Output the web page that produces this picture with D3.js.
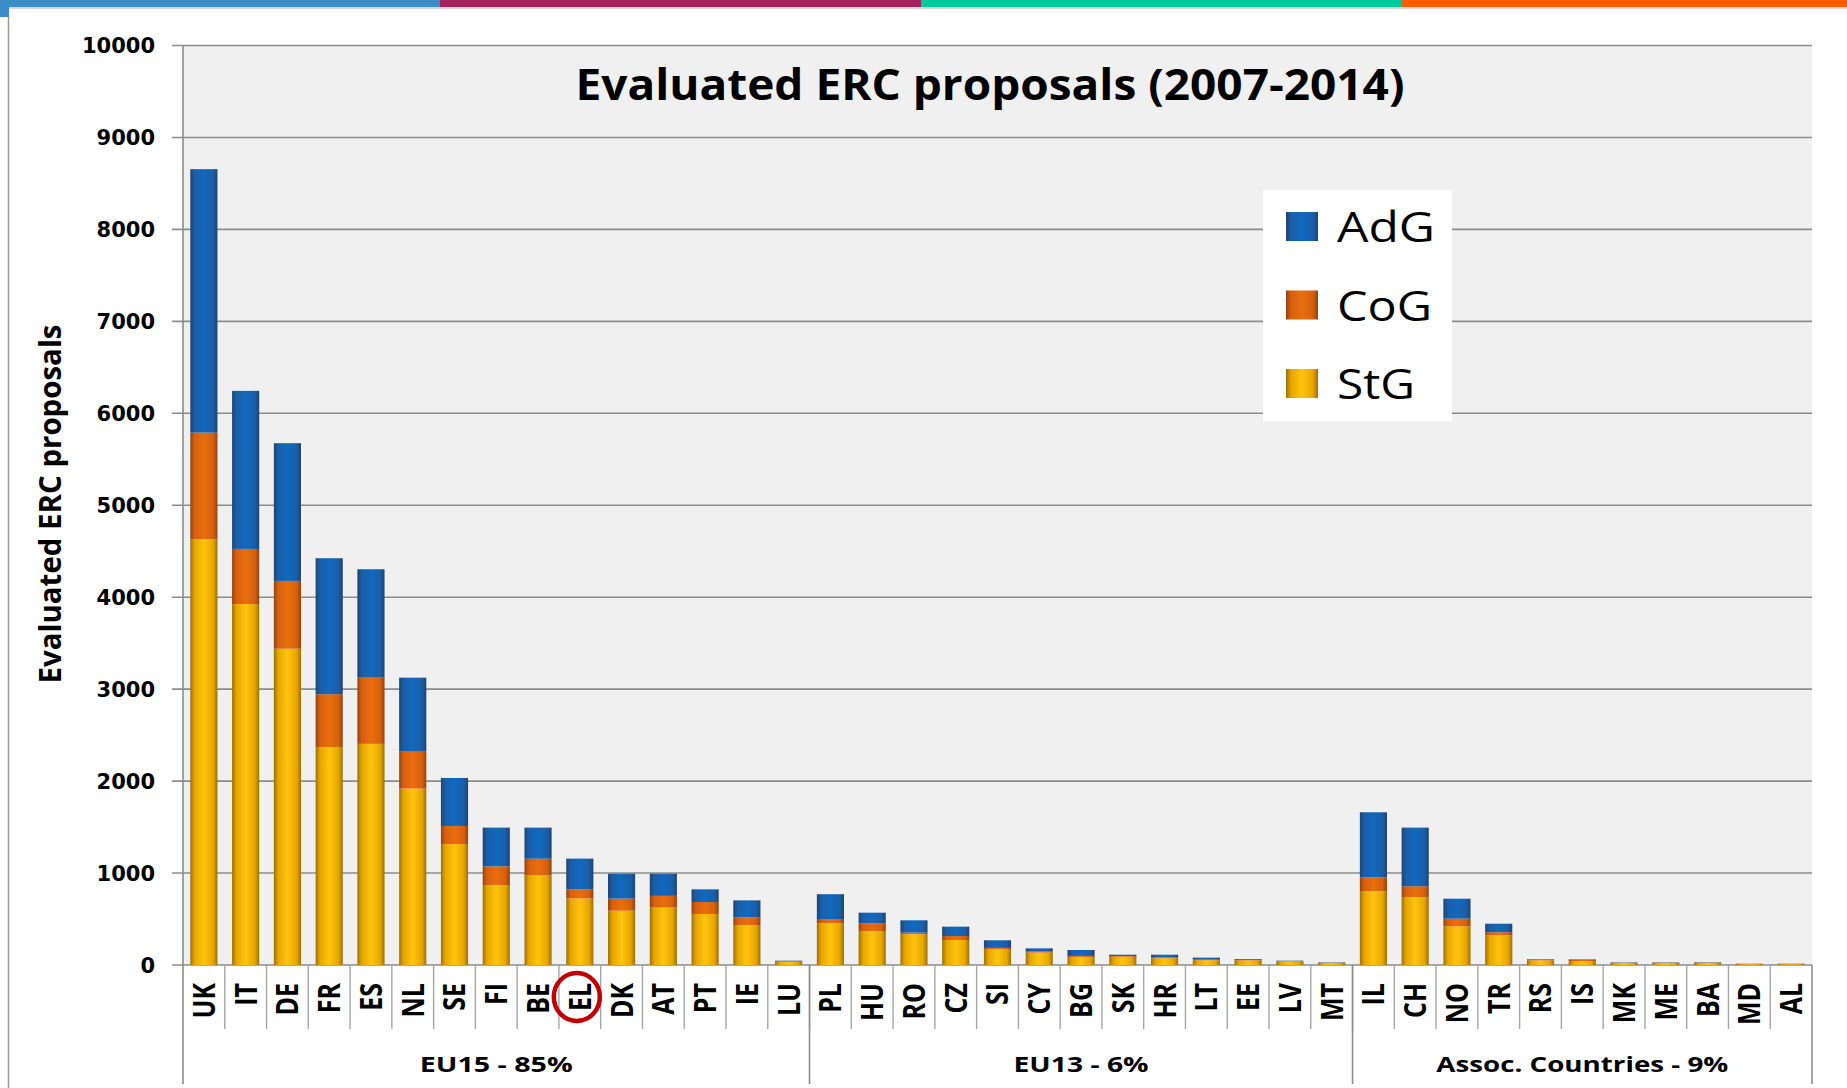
<!doctype html>
<html>
<head>
<meta charset="utf-8">
<script src="https://d3js.org/d3.v7.min.js"></script>
<style>
  body { margin: 0; background: #fff; }
  svg { display: block; }
</style>
</head>
<body>
<svg width="1847" height="1088" id="chart"></svg>
<script>
// data
var countries = ["UK","IT","DE","FR","ES","NL","SE","FI","BE","EL","DK","AT","PT","IE","LU",
                 "PL","HU","RO","CZ","SI","CY","BG","SK","HR","LT","EE","LV","MT",
                 "IL","CH","NO","TR","RS","IS","MK","ME","BA","MD","AL"];
var stg = [4630,3925,3440,2370,2405,1920,1315,870,975,725,591,625,555,435,35,
           455,370,335,272,175,135,88,90,73,52,50,38,22,
           805,740,421,323,50,42,22,22,25,9,9];
var cog = [1160,600,737,575,720,400,197,203,181,98,131,127,130,84,5,
           45,84,17,43,11,11,11,8,11,6,6,4,3,
           149,116,83,33,5,15,3,3,3,2,2];
var adg = [2865,1719,1498,1479,1179,805,522,421,338,334,271,241,138,184,7,
           270,115,134,102,83,35,64,14,28,22,9,5,4,
           707,638,217,93,7,5,4,4,4,3,3];
var seriesNames = ["StG","CoG","AdG"];
var groupNames = ["EU15 - 85%","EU13 - 6%","Assoc. Countries - 9%"];
var groupSizes = [15,13,11];
var yTicks = [0,1000,2000,3000,4000,5000,6000,7000,8000,9000,10000];

var svg = d3.select("svg");
var plotL = 183, plotR = 1812, plotT = 45.5, plotB = 965;

var rows = countries.map(function(c, i) { return {country: c, StG: stg[i], CoG: cog[i], AdG: adg[i]}; });

var x = d3.scaleBand().domain(countries).range([plotL, plotR]).paddingInner(0.35).paddingOuter(0.175);
var y = d3.scaleLinear().domain([0, 10000]).range([plotB, plotT]);
var step = x.step();

// cylinder-ish shading
var shades = {
  AdG: ["#1f4470", "#1a5ea8", "#1169be"],
  CoG: ["#94420f", "#d6600e", "#ea6e0c"],
  StG: ["#9c7006", "#e6a600", "#ffc40e"]
};
var defs = svg.append("defs");
Object.keys(shades).forEach(function(k) {
  var g = defs.append("linearGradient").attr("id", "g" + k).attr("x1", 0).attr("x2", 1).attr("y1", 0).attr("y2", 0);
  var s = shades[k];
  [[0, s[0]], [0.16, s[1]], [0.5, s[2]], [0.84, s[1]], [1, s[0]]].forEach(function(p) {
    g.append("stop").attr("offset", p[0]).attr("stop-color", p[1]);
  });
});

// top colour strip and page frame
var strip = [["#3b8dca", 0, 440], ["#a6215c", 440, 921], ["#00c99c", 921, 1402], ["#ff5e00", 1402, 1847]];
strip.forEach(function(s) {
  svg.append("rect").attr("x", s[1]).attr("y", 0).attr("width", s[2] - s[1]).attr("height", 7).attr("fill", s[0]);
});
svg.append("rect").attr("x", 0).attr("y", 7).attr("width", 9).attr("height", 10).attr("fill", "#3b8dca");
svg.append("line").attr("x1", 9).attr("x2", 1847).attr("y1", 8).attr("y2", 8).attr("stroke", "#d8d8d8").attr("stroke-width", 2);
svg.append("line").attr("x1", 8.5).attr("x2", 8.5).attr("y1", 17).attr("y2", 1088).attr("stroke", "#9a9a9a").attr("stroke-width", 1.5);

// plot area
svg.append("rect").attr("x", plotL).attr("y", plotT).attr("width", plotR - plotL).attr("height", plotB - plotT).attr("fill", "#f0f0f0");

svg.append("g").selectAll("line").data(yTicks).enter().append("line")
  .attr("x1", plotL - 11).attr("x2", plotR)
  .attr("y1", function(d) { return y(d); }).attr("y2", function(d) { return y(d); })
  .attr("stroke", "#8c8c8c").attr("stroke-width", 1.6);

svg.append("g").selectAll("text").data(yTicks).enter().append("text")
  .attr("x", 155).attr("y", function(d) { return y(d); }).attr("dy", "0.36em")
  .attr("text-anchor", "end")
  .style("font-family", "DejaVu Sans").style("font-weight", "bold").style("font-size", "21px")
  .text(function(d) { return d; });

// bars
var stack = d3.stack().keys(seriesNames)(rows);
svg.append("g").selectAll("g").data(stack).enter().append("g")
  .attr("fill", function(d) { return "url(#g" + d.key + ")"; })
  .selectAll("rect").data(function(d) { return d; }).enter().append("rect")
  .attr("x", function(d) { return x(d.data.country); })
  .attr("width", x.bandwidth())
  .attr("y", function(d) { return y(d[1]); })
  .attr("height", function(d) { return y(d[0]) - y(d[1]); });

// category axis: separators, labels, groups
svg.append("line").attr("x1", plotL).attr("x2", plotL).attr("y1", plotT).attr("y2", 1084)
  .attr("stroke", "#8c8c8c").attr("stroke-width", 1.6);
svg.append("g").selectAll("line").data(countries.slice(1)).enter().append("line")
  .attr("x1", function(d) { return x(d) - step * 0.175; }).attr("x2", function(d) { return x(d) - step * 0.175; })
  .attr("y1", plotB).attr("y2", 1029)
  .attr("stroke", "#a6a6a6").attr("stroke-width", 1.4);

svg.append("g").selectAll("text").data(countries).enter().append("text")
  .attr("transform", function(d) { return "translate(" + (x(d) + x.bandwidth() / 2) + ",983) rotate(-90) scale(1,1.22)"; })
  .attr("dy", "0.36em")
  .attr("text-anchor", "end")
  .style("font-family", "Open Sans").style("font-weight", "bold").style("font-size", "25px")
  .text(function(d) { return d; });

var start = 0;
groupNames.forEach(function(name, i) {
  var first = countries[start], last = countries[start + groupSizes[i] - 1];
  var x0 = x(first) - step * 0.175, x1 = x(last) + x.bandwidth() + step * 0.175;
  svg.append("line").attr("x1", x1).attr("x2", x1).attr("y1", plotB).attr("y2", 1084)
    .attr("stroke", "#8c8c8c").attr("stroke-width", 1.6);
  var w = [153, 135, 292][i];
  svg.append("text").attr("x", (x0 + x1) / 2).attr("y", 1072)
    .attr("text-anchor", "middle")
    .attr("textLength", w).attr("lengthAdjust", "spacingAndGlyphs")
    .style("font-family", "Open Sans").style("font-weight", "bold").style("font-size", "22px")
    .text(name);
  start += groupSizes[i];
});

// red circle around EL
svg.append("ellipse").attr("cx", x("EL") + x.bandwidth() / 2 - 3).attr("cy", 997).attr("rx", 23).attr("ry", 24)
  .attr("fill", "none").attr("stroke", "#c00000").attr("stroke-width", 4.5);

// titles
svg.append("text").attr("x", 990).attr("y", 100).attr("text-anchor", "middle")
  .attr("textLength", 829).attr("lengthAdjust", "spacingAndGlyphs")
  .style("font-family", "Open Sans").style("font-weight", "bold").style("font-size", "43px")
  .text("Evaluated ERC proposals (2007-2014)");

svg.append("text").attr("transform", "translate(61,504) rotate(-90)")
  .attr("text-anchor", "middle")
  .attr("textLength", 359).attr("lengthAdjust", "spacingAndGlyphs")
  .style("font-family", "Open Sans").style("font-weight", "bold").style("font-size", "31px")
  .text("Evaluated ERC proposals");

// legend
var legend = svg.append("g");
legend.append("rect").attr("x", 1263).attr("y", 190).attr("width", 189).attr("height", 231).attr("fill", "#fff");
var legendItems = ["AdG", "CoG", "StG"];
var legendW = [98, 95, 78];
legendItems.forEach(function(k, i) {
  var yy = 212 + i * 78.5;
  legend.append("rect").attr("x", 1286).attr("y", yy).attr("width", 32).attr("height", 29).attr("fill", "url(#g" + k + ")");
  legend.append("text").attr("x", 1337).attr("y", yy + 30)
    .attr("textLength", legendW[i]).attr("lengthAdjust", "spacingAndGlyphs")
    .style("font-family", "Open Sans").style("font-size", "42px")
    .text(k);
});
</script>
</body>
</html>
